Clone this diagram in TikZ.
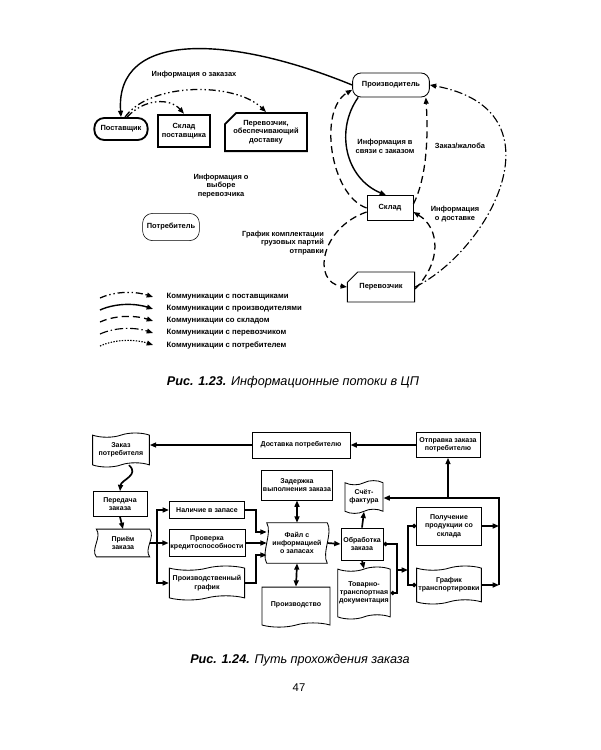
\documentclass[tikz,border=0pt]{standalone}
\usepackage{fontspec}
\setmainfont{Liberation Sans}
\usepackage{tikz}
\usetikzlibrary{arrows.meta, positioning, shapes.misc, shapes.symbols, calc}

\begin{document}
\begin{tikzpicture}[
    x=0.025cm, y=-0.025cm,
    every node/.style={
        font=\fontsize{5.3}{6.2}\selectfont\bfseries,
        align=center, inner sep=1pt
    },
    box/.style={draw, rectangle, line width=0.6pt},
    thickbox/.style={draw, rectangle, line width=1.3pt},
    cutbox/.style={draw, chamfered rectangle, chamfered rectangle corners=north west,
        chamfered rectangle xsep=4pt, chamfered rectangle ysep=4pt},
    wavebox/.style={draw, tape, line width=0.6pt, tape bend height=3pt},
    docbox/.style={wavebox, tape bend top=none},
    lbl/.style={draw=none},
    small/.style={font=\fontsize{5}{5.9}\selectfont\bfseries},
    arr/.style={-{Triangle[length=4.5pt,width=3.5pt]}},
    supp/.style={arr, line width=0.9pt, dash pattern=on 5pt off 2pt on 1pt off 2pt on 1pt off 2pt},
    prod/.style={arr, line width=1pt},
    stock/.style={arr, line width=0.9pt, dash pattern=on 5pt off 3pt},
    carr/.style={arr, line width=0.8pt, dash pattern=on 6pt off 2pt on 1pt off 2pt},
    cons/.style={arr, line width=0.8pt, dash pattern=on 1pt off 1pt},
    flow/.style={arr, line width=1.2pt},
    twoway/.style={{Triangle[length=4.5pt,width=3.5pt]}-{Triangle[length=4.5pt,width=3.5pt]}, line width=1.2pt}
]
    \fill[white] (0,0) rectangle (600,750);
    \useasboundingbox (0,0) rectangle (600,750);

    % Fig. 1.23
    \node[thickbox, rounded corners=7pt, minimum width=1.33cm, minimum height=0.55cm] (postav) at (121,129) {Поставщик};
    \node[thickbox, minimum width=1.3cm, minimum height=0.82cm] (skladp) at (184,131) {Склад\\поставщика};
    \node[cutbox, line width=1.3pt, minimum width=2.05cm, minimum height=0.92cm] (perevd) at (266,132) {Перевозчик,\\обеспечивающий\\доставку};
    \node[box, rounded corners=6pt, minimum width=1.92cm, minimum height=0.6cm] (proizv) at (391,85) {Производитель};
    \node[box, minimum width=1.15cm, minimum height=0.62cm] (sklad) at (390,208) {Склад};
    \node[cutbox, line width=0.6pt, minimum width=1.68cm, minimum height=0.75cm] (perev) at (381,287) {Перевозчик};
    \node[box, rounded corners=7pt, line width=0.4pt, minimum width=1.42cm, minimum height=0.68cm] (potreb) at (171,227) {Потребитель};

    \node[lbl] (lzak) at (194,75) {Информация о заказах};
    \node[lbl] (lvyb) at (221,186) {Информация о\\выборе\\перевозчика};
    \node[lbl] (lsvyaz) at (385,146) {Информация в\\связи с заказом};
    \node[lbl] (lzhal) at (460,146) {Заказ/жалоба};
    \node[lbl] (ldost) at (455,214) {Информация\\о доставке};
    \node[lbl, align=right] (lgraf) at (283,243) {График комплектации\\грузовых партий\\отправки};

    \draw[prod] (proizv.west) .. controls (230,35) and (115,30) .. (postav.north);
    \draw[supp] ([xshift=0.15cm]postav.north) .. controls (145,98) and (170,98) .. (skladp.north);
    \draw[supp] ([xshift=0.1cm]postav.north) .. controls (150,82) and (235,82) .. (perevd.north);
    \draw[prod] ([xshift=0.15cm]proizv.south west) .. controls (335,130) and (345,178) .. ([xshift=-0.1cm]sklad.north);
    \draw[stock] (sklad.west) .. controls (330,195) and (318,110) .. ([yshift=-0.12cm]proizv.west);
    \draw[stock] ([yshift=0.1cm]sklad.east) .. controls (428,175) and (428,130) .. ([xshift=-0.1cm]proizv.south east);
    \draw[carr] (perev.east) .. controls (490,250) and (565,110) .. (proizv.east);
    \draw[stock] ([yshift=-0.05cm]perev.east) .. controls (442,262) and (440,228) .. ([yshift=-0.1cm]sklad.east);
    \draw[stock] ([yshift=-0.1cm]sklad.west) .. controls (320,228) and (312,282) .. (perev.west);

    % legend
    \foreach \st/\txt [count=\i] in {supp/Коммуникации с поставщиками,
            prod/Коммуникации с производителями, stock/Коммуникации со складом,
            carr/Коммуникации с перевозчиком, cons/Коммуникации с потребителем} {
        \coordinate (ls\i) at (100,286+12*\i);
        \coordinate (le\i) at (153,285+12*\i);
        \draw[\st] (ls\i) .. controls +(18,-8) and +(-15,-5) .. (le\i);
        \node[lbl, anchor=west, font=\fontsize{5.5}{6.5}\selectfont\bfseries] (lt\i) at (165,285+12*\i) {\txt};
    }

    \node[lbl, font=\fontsize{9}{11}\selectfont\itshape] (cap1) at (293,382) {{\bfseries Рис. 1.23.} Информационные потоки в ЦП};

    % Fig. 1.24
    \node[wavebox, small, minimum width=1.42cm, minimum height=0.85cm] (zakp) at (121,450) {Заказ\\потребителя};
    \node[box, small, minimum width=2.45cm, minimum height=0.65cm] (dostp) at (301,445) {Доставка потребителю};
    \node[box, small, minimum width=1.6cm, minimum height=0.62cm] (otpr) at (448,445) {Отправка заказа\\потребителю};
    \node[box, small, minimum width=1.35cm, minimum height=0.62cm] (pered) at (120,504) {Передача\\заказа};
    \node[lbl, small, minimum width=1.32cm, minimum height=0.68cm] (priem) at (123,543) {Приём\\заказа};
    \node[box, small, minimum width=1.88cm, minimum height=0.42cm] (nalich) at (207,510) {Наличие в запасе};
    \node[box, small, minimum width=1.88cm, minimum height=0.68cm] (prov) at (207,543) {Проверка\\кредитоспособности};
    \node[wavebox, small, minimum width=1.88cm, minimum height=0.85cm] (pgraf) at (207,583) {Производственный\\график};
    \node[lbl, small, minimum width=1.5cm, minimum height=1.0cm] (fail) at (297,543) {Файл с\\информацией\\о запасах};
    \node[box, small, minimum width=1.75cm, minimum height=0.75cm] (zader) at (297,485) {Задержка\\выполнения заказа};
    \node[docbox, small, minimum width=1.7cm, minimum height=1.0cm] (proizvd) at (296,605) {Производство};
    \node[box, small, minimum width=1.05cm, minimum height=0.8cm] (obrab) at (362,544) {Обработка\\заказа};
    \node[wavebox, small, minimum width=0.95cm, minimum height=0.82cm] (schet) at (364,497) {Счёт-\\фактура};
    \node[wavebox, small, minimum width=1.3cm, minimum height=1.3cm] (ttd) at (364,593) {Товарно-\\транспортная\\документация};
    \node[box, small, minimum width=1.62cm, minimum height=0.95cm] (polu) at (449,526) {Получение\\продукции со\\склада};
    \node[wavebox, small, minimum width=1.62cm, minimum height=0.95cm] (tgraf) at (449,585) {График\\транспортировки};

    % wavy sides
    \draw[line width=0.6pt] (priem.north west) -- (priem.north east)
        .. controls +(6,8) and +(-6,-8) .. (priem.south east) -- (priem.south west)
        .. controls +(-6,-8) and +(6,8) .. (priem.north west) -- cycle;
    \draw[line width=0.6pt] (fail.north west) -- (fail.north east)
        .. controls +(6,10) and +(-6,-10) .. (fail.south east) -- (fail.south west)
        .. controls +(-6,-10) and +(6,10) .. (fail.north west) -- cycle;

    \draw[flow] (dostp.west) -- (dostp.west -| zakp.east);
    \draw[flow] (otpr.west) -- (dostp.east);
    \draw[flow] ([xshift=0.2cm]zakp.south) .. controls (140,475) and (121,480) .. (pered.north);
    \draw[flow] (pered.south) -- (priem.north);
    \coordinate (jn) at (157,543);
    \draw[line width=1.2pt] (priem.east) -- (jn);
    \draw[flow] (jn) |- (nalich.west);
    \draw[flow] (jn) -- (prov.west);
    \draw[flow] (jn) |- (pgraf.west);
    \draw[flow] (nalich.east) -| (256,532) -- ([yshift=0.275cm]fail.west);
    \draw[flow] (prov.east) -- (fail.west);
    \draw[flow] (pgraf.east) -| (256,555) -- ([yshift=-0.3cm]fail.west);
    \draw[twoway] (zader.south) -- (fail.north);
    \draw[twoway] (fail.south) -- (proizvd.north);
    \draw[flow] (fail.east) -- (obrab.west);
    \draw[flow] (obrab.north) -- (schet.south);
    \draw[flow] (obrab.south) -- (ttd.north);
    \draw[line width=1.2pt, {Circle[length=3pt]}-{Circle[length=3pt]}] (obrab.east) -| (397,593) -- (ttd.east);
    \coordinate (tap) at (397,570);
    \coordinate (bus) at (408,570);
    \draw[flow] (tap) -- (bus);
    \draw[line width=1.2pt, {Circle[length=3pt]}-] (polu.west) -| (bus);
    \draw[line width=1.2pt, {Circle[length=3pt]}-] (tgraf.west) -| (bus);
    \coordinate (rb) at (499,498);
    \coordinate (tp) at (448,498);
    \draw[flow] (polu.east) -- (polu.east -| rb);
    \draw[flow] (tgraf.east) -- (tgraf.east -| rb);
    \draw[flow] (tgraf.east -| rb) -- (rb) -- (schet.east |- rb);
    \draw[flow] (tp) -- (otpr.south);

    \node[lbl, font=\fontsize{9}{11}\selectfont\itshape] (cap2) at (300,660) {{\bfseries Рис. 1.24.} Путь прохождения заказа};
    \node[lbl, font=\fontsize{8}{10}\selectfont] (pnum) at (299,688) {47};
\end{tikzpicture}
\end{document}
